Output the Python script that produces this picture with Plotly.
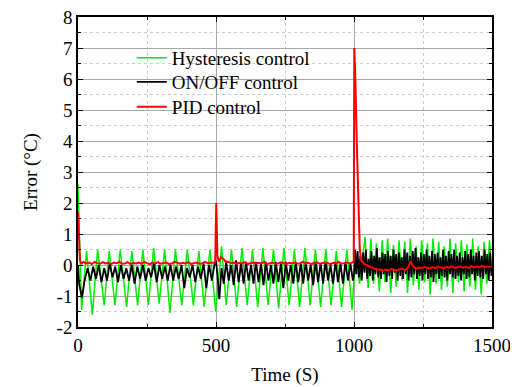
import plotly.graph_objects as go

# ---------------- data ----------------
# Hysteresis control: turning points (time s, error °C)
hys_t = [0, 13, 31, 52, 71, 95, 113, 134, 153, 176, 195, 216, 235, 255, 274, 294, 314, 333, 353, 376,
         396, 418, 438, 457, 478, 499,
         520, 537, 556, 575, 594, 613, 632, 651, 670, 689, 708, 727, 746, 765, 784, 803, 822, 841, 860, 879,
         898, 917, 936, 955, 974, 993,
         1005, 1020, 1040, 1051, 1061, 1071, 1081, 1092, 1102, 1112, 1122, 1133, 1143, 1153, 1163, 1174, 1184,
         1194, 1204, 1215, 1225, 1235, 1245, 1256, 1266, 1276, 1286, 1297, 1307, 1317, 1327, 1338, 1348, 1358,
         1368, 1379, 1389, 1399, 1409, 1420, 1430, 1440, 1450, 1461, 1471, 1481, 1491, 1500]
hys_v = [2.6, -1.45, 0.45, -1.6, 0.5, -1.3, 0.45, -1.3, 0.5, -1.35, 0.45, -1.3, 0.5, -1.3, 0.55, -1.25,
         0.5, -1.55, 0.5, -1.3, 0.5, -1.3, 0.45, -1.35, 0.5, -1.5,
         0.6, -1.3, 0.5, -1.35, 0.55, -1.3, 0.5, -1.35, 0.55, -1.3, 0.5, -1.4, 0.55, -1.3, 0.5, -1.35,
         0.55, -1.3, 0.5, -1.35, 0.5, -1.3, 0.45, -1.35, 0.5, -1.45,
         0.3, -0.6, 0.9, -0.75, 0.85, -0.6, 0.7, -0.85, 0.8, -0.55, 0.85, -0.9, 0.65, -0.7, 0.8, -0.5,
         0.75, -0.9, 0.85, -0.65, 0.6, -0.8, 0.8, -0.55, 0.7, -0.95, 0.85, -0.6, 0.75, -0.8, 0.6, -0.7,
         0.85, -0.9, 0.7, -0.55, 0.8, -0.85, 0.65, -0.7, 0.85, -0.8, 0.6, -0.95, 0.75, -0.6, 0.8, -0.3]

# ON/OFF control
onoff_start_t = [0, 4, 14, 24, 35]
onoff_start_v = [0.0, -0.6, -1.05, -0.5, -0.1]
onoff_a_t = list(range(45, 500, 10))
onoff_a_v = [-0.5, -0.05, -0.45, 0.0, -0.55, -0.1, -0.5, 0.05, -0.4, -0.05,
             -0.55, 0.0, -0.45, -0.1, -0.5, 0.0, -0.6, -0.05, -0.45, 0.0,
             -0.5, -0.1, -0.4, 0.05, -0.55, 0.0, -0.45, -0.05, -0.5, 0.0,
             -0.5, -0.05, -0.45, 0.0, -0.75, -0.1, -0.4, 0.0, -0.55, -0.05,
             -0.45, 0.05, -0.75, 0.0, -0.5, 0.05]
onoff_mid_t = [500, 505, 512, 520]
onoff_mid_v = [0.15, -0.3, -1.1, -0.1]
onoff_b_t = list(range(528, 1000, 9))
onoff_b_v = [-0.6, 0.1, -0.5, 0.0, -0.65, 0.15, -0.55, 0.05, -0.6, 0.1,
             -0.5, 0.0, -0.6, 0.1, -0.55, 0.05, -0.65, 0.1, -0.5, 0.0,
             -0.6, 0.1, -0.55, 0.05, -0.75, 0.1, -0.5, 0.0, -0.6, 0.1,
             -0.55, 0.05, -0.6, 0.1, -0.5, 0.0, -0.65, 0.1, -0.55, 0.05,
             -0.6, 0.1, -0.5, 0.0, -0.6, 0.1, -0.55, 0.05, -0.6, 0.1,
             -0.5, 0.05, -0.5]
onoff_jump_t = [1000, 1004]
onoff_jump_v = [-0.3, 0.5]
onoff_c_t = list(range(1008, 1501, 5))
onoff_c_v = [-0.3, 0.45, -0.4, 0.3, -0.5, 0.4, -0.25, 0.5, -0.45, 0.2,
             -0.35, 0.45, -0.5, 0.3, -0.3, 0.55, -0.4, 0.25, -0.45, 0.4,
             -0.3, 0.35, -0.55, 0.45, -0.35, 0.3, -0.45, 0.5, -0.25, 0.35,
             -0.5, 0.4, -0.35, 0.25, -0.45, 0.5, -0.3, 0.4, -0.5, 0.3,
             -0.4, 0.45, -0.3, 0.55, -0.45, 0.25, -0.35, 0.4, -0.5, 0.35,
             -0.3, 0.5, -0.45, 0.3, -0.4, 0.45, -0.55, 0.35, -0.3, 0.4,
             -0.45, 0.25, -0.35, 0.5, -0.4, 0.3, -0.5, 0.45, -0.3, 0.35,
             -0.4, 0.5, -0.45, 0.3, -0.35, 0.4, -0.5, 0.25, -0.3, 0.45,
             -0.45, 0.35, -0.4, 0.5, -0.3, 0.3, -0.5, 0.4, -0.35, 0.45,
             -0.4, 0.3, -0.45, 0.5, -0.3, 0.35, -0.5, 0.4, -0.35]

# PID control
pid_start_t = [0, 3, 7, 12]
pid_start_v = [1.7, 0.8, 0.15, 0.05]
pid_a_t = list(range(20, 500, 10))
pid_a_v = [0.1, 0.05, 0.08, 0.03, 0.1, 0.06, 0.04, 0.09, 0.05, 0.07,
           0.03, 0.08, 0.06, 0.1, 0.04, 0.05, 0.09, 0.03, 0.07, 0.05,
           0.08, 0.04, 0.1, 0.06, 0.03, 0.07, 0.05, 0.09, 0.04, 0.06,
           0.08, 0.03, 0.05, 0.1, 0.06, 0.04, 0.07, 0.05, 0.09, 0.03,
           0.06, 0.08, 0.04, 0.05, 0.1, 0.06, 0.07, 0.08]
pid_spike1_t = [497, 501, 505, 510, 518, 526, 534]
pid_spike1_v = [0.08, 2.0, 0.3, 0.1, 0.25, 0.2, 0.12]
pid_b_t = list(range(545, 1000, 10))
pid_b_v = [0.1, 0.06, 0.08, 0.04, 0.07, 0.05, 0.09, 0.03, 0.06, 0.08,
           0.04, 0.07, 0.05, 0.1, 0.03, 0.06, 0.08, 0.04, 0.05, 0.09,
           0.06, 0.03, 0.07, 0.05, 0.08, 0.04, 0.06, 0.1, 0.05, 0.07,
           0.03, 0.06, 0.09, 0.04, 0.05, 0.08, 0.06, 0.03, 0.07, 0.05,
           0.1, 0.04, 0.06, 0.08, 0.05, 0.07]
pid_spike2_t = [999, 1001, 1005, 1010, 1016, 1021, 1026]
pid_spike2_v = [0.1, 7.0, 6.0, 4.0, 2.0, 0.5, 0.15]
pid_c_t = list(range(1035, 1501, 10)) + [1500]
pid_c_v = [0.05, 0.0, -0.05, -0.08, -0.12, -0.15, -0.14, -0.18, -0.15, -0.17,
           -0.13, -0.16, -0.18, -0.14, -0.12, -0.17, -0.1, 0.12, -0.05, -0.12,
           -0.08, -0.1, -0.06, -0.09, -0.12, -0.07, -0.1, -0.05, -0.08, -0.11,
           -0.06, -0.09, -0.04, -0.1, -0.07, -0.05, -0.09, -0.06, -0.1, -0.04,
           -0.08, -0.05, -0.07, -0.03, -0.06, -0.04, -0.05, -0.05]

onoff_t = onoff_start_t + onoff_a_t + onoff_mid_t + onoff_b_t + onoff_jump_t + onoff_c_t
onoff_v = onoff_start_v + onoff_a_v + onoff_mid_v + onoff_b_v + onoff_jump_v + onoff_c_v
pid_t = pid_start_t + pid_a_t + pid_spike1_t + pid_b_t + pid_spike2_t + pid_c_t
pid_v = pid_start_v + pid_a_v + pid_spike1_v + pid_b_v + pid_spike2_v + pid_c_v

series_names = ["Hysteresis control", "ON/OFF control", "PID control"]
series_colors = ["#00ee00", "#000000", "#ff0000"]

x_tickvals = [0, 500, 1000, 1500]
x_ticktext = ["0", "500", "1000", "1500"]
y_tickvals = [-2, -1, 0, 1, 2, 3, 4, 5, 6, 7, 8]
y_ticktext = ["-2", "-1", "0", "1", "2", "3", "4", "5", "6", "7", "8"]

FONT = "Liberation Serif, Times New Roman, serif"
FS = 19

fig = go.Figure()
fig.add_trace(go.Scatter(x=hys_t, y=hys_v, mode="lines", name=series_names[0], legend="legend",
                         line=dict(color=series_colors[0], width=1.5)))
fig.add_trace(go.Scatter(x=onoff_t, y=onoff_v, mode="lines", name=series_names[1], legend="legend2",
                         line=dict(color=series_colors[1], width=1.8)))
fig.add_trace(go.Scatter(x=pid_t, y=pid_v, mode="lines", name=series_names[2], legend="legend3",
                         line=dict(color=series_colors[2], width=2)))

axis_common = dict(
    showline=True, linecolor="black", linewidth=1.5, mirror="ticks",
    ticks="inside", ticklen=5, tickwidth=1.2, tickcolor="black",
    showgrid=True, gridcolor="#a8a8a8", gridwidth=1.2,
    zeroline=False, automargin=False, ticklabeloverflow="allow",
    tickfont=dict(family=FONT, size=FS, color="black"),
)

fig.update_xaxes(
    range=[0, 1500], tickvals=x_tickvals, ticktext=x_ticktext,
    minor=dict(dtick=250, tick0=0, ticks="inside", ticklen=3, tickcolor="black",
               showgrid=True, gridcolor="#cccccc", griddash="dot", gridwidth=1),
    title=dict(text="Time (S)", font=dict(family=FONT, size=FS, color="black"), standoff=13),
    **axis_common,
)
fig.update_yaxes(
    range=[-2, 8], tickvals=y_tickvals, ticktext=y_ticktext,
    minor=dict(dtick=0.5, tick0=0, ticks="inside", ticklen=3, tickcolor="black",
               showgrid=True, gridcolor="#cccccc", griddash="dot", gridwidth=1),
    title=dict(text="Error (°C)", font=dict(family=FONT, size=FS, color="black"), standoff=14),
    **axis_common,
)

leg_common = dict(x=0.13, xanchor="left", yanchor="middle",
                  bgcolor="rgba(0,0,0,0)", borderwidth=0,
                  font=dict(family=FONT, size=FS, color="black"))

# the page adds an 8px body margin, so the figure is sized to fit inside the window
fig.update_layout(
    width=510, height=379,
    margin=dict(l=70, r=26, t=9, b=60),
    paper_bgcolor="white", plot_bgcolor="white",
    font=dict(family=FONT, size=FS, color="black"),
    showlegend=True,
    legend=dict(y=0.868, **leg_common),
    legend2=dict(y=0.790, **leg_common),
    legend3=dict(y=0.710, **leg_common),
)

fig.write_html("out.html")
